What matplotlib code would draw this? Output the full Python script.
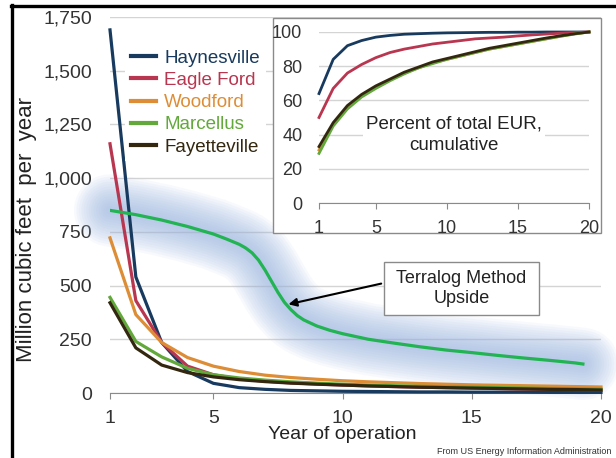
import numpy as np
import matplotlib
matplotlib.use("Agg")
import matplotlib.pyplot as plt
from matplotlib.lines import Line2D
from matplotlib.patches import Rectangle
from matplotlib.ticker import StrMethodFormatter

plt.rcParams['font.family'] = ['Liberation Sans', 'DejaVu Sans']

# 数据
years = list(range(1, 21))
names = ['Haynesville', 'Eagle Ford', 'Woodford', 'Marcellus', 'Fayetteville']
colors = ['#183a5e', '#b8364f', '#dd8d36', '#62a83a', '#33280f']

haynesville = [1690, 540, 235, 100, 45, 25, 17, 12, 10, 8, 7, 6, 5, 5, 4, 4, 4, 3, 3, 3]
eagle_ford = [1160, 430, 235, 125, 85, 65, 55, 47, 42, 37, 33, 30, 27, 25, 23, 21, 19, 17, 16, 14]
woodford = [722, 365, 235, 165, 125, 100, 83, 72, 64, 57, 52, 48, 44, 41, 38, 36, 34, 32, 30, 28]
marcellus = [445, 240, 168, 115, 85, 70, 60, 52, 46, 41, 37, 34, 31, 29, 27, 25, 23, 21, 20, 18]
fayetteville = [420, 210, 130, 95, 75, 62, 53, 46, 41, 37, 33, 30, 27, 25, 23, 21, 19, 17, 16, 14]

# Terralog 曲线
terra_x = [1, 2, 3, 4, 5, 5.5, 6, 6.25, 6.5, 6.75, 7, 7.25, 7.5, 7.75, 8, 8.25, 8.5, 9, 9.5, 10,
           11, 12, 13, 14, 15, 16, 17, 18, 19, 19.3]
terra_y = [850, 830, 805, 775, 740, 717, 692, 675, 652, 618, 572, 520, 468, 422, 388, 360, 340, 312, 292, 276,
           250, 232, 215, 200, 188, 175, 163, 152, 140, 135]

# 累计百分比（小图）
pct_haynesville = [64, 84, 92, 95, 97, 98, 98.7, 99, 99.3, 99.5, 99.6, 99.7, 99.8, 99.8, 99.9, 99.9, 100, 100, 100, 100]
pct_eagle_ford = [50, 67, 76, 81, 85, 88, 90, 91.5, 93, 94, 95, 96, 96.5, 97, 97.7, 98.3, 98.8, 99.3, 99.7, 100]
pct_woodford = [31, 46, 56, 63, 68, 72, 76, 79, 82, 84, 86, 88, 90, 91.5, 93, 94.5, 96, 97.5, 99, 100]
pct_marcellus = [29, 45, 55, 62, 67, 71.5, 75.5, 79, 81.5, 84, 86, 88, 90, 91.5, 93, 94.5, 96, 97.5, 98.8, 100]
pct_fayetteville = [33, 47, 57, 63.5, 68.5, 72.5, 76.5, 79.5, 82.5, 84.5, 86.5, 88.5, 90.5, 92, 93.5, 95, 96.5, 97.8, 99, 100]

W, H = 616, 458
fig = plt.figure(figsize=(W / 100, H / 100), dpi=100)

# 主图
ax = fig.add_axes([110 / W, 1 - 393 / H, 491 / W, 376 / H])
ax.set_xlim(1, 20)
ax.set_ylim(0, 1750)
ax.set_yticks(range(0, 1751, 250))
ax.set_xticks([1, 5, 10, 15, 20])
ax.yaxis.set_major_formatter(StrMethodFormatter('{x:,.0f}'))
ax.yaxis.grid(True, color='#d4d4d4', lw=1)
ax.set_axisbelow(True)
for s in ['left', 'right', 'top']:
    ax.spines[s].set_visible(False)
ax.spines['bottom'].set_color('#8a8a8a')
ax.tick_params(axis='y', length=0, pad=13, labelsize=14, labelcolor='#333333')
ax.tick_params(axis='x', length=4, color='#8a8a8a', pad=8, labelsize=14, labelcolor='#333333')

# 蓝色光晕
for lw in np.linspace(52, 6, 14):
    ax.plot(terra_x, terra_y, color='#9db6e2', lw=lw, alpha=0.075, solid_capstyle='round',
            solid_joinstyle='round', clip_on=False, zorder=1)

series = [haynesville, eagle_ford, woodford, marcellus, fayetteville]
for name, vals, c in zip(names, series, colors):
    ax.plot(years, vals, color=c, lw=2.3, label=name, zorder=3, clip_on=False)
ax.plot(terra_x, terra_y, color='#22b352', lw=2.3, zorder=4)

ax.set_xlabel('Year of operation', fontsize=14, color='#222222')
ax.xaxis.set_label_coords((342 - 110) / 491, -(426 - 393) / 376)
ax.set_ylabel('Million cubic feet  per  year', fontsize=16, color='#222222')
ax.yaxis.set_label_coords(-(110 - 37) / 491, (393 - 230) / 376)

leg = ax.legend(loc='upper left', bbox_to_anchor=(125 / W, 1 - 44 / H), bbox_transform=fig.transFigure,
                fontsize=13.5, labelcolor='linecolor', handlelength=1.35, handletextpad=0.45,
                labelspacing=0.27, borderpad=0.3, borderaxespad=0, frameon=True, fancybox=False)
leg.get_frame().set_edgecolor('none')
leg.get_frame().set_facecolor('white')
leg.get_frame().set_alpha(1)
for h in leg.get_lines():
    h.set_linewidth(3)
leg.set_zorder(5)

# Terralog 标注框
ax.annotate('', xy=(7.8, 410), xytext=(11.6, 512),
            arrowprops=dict(arrowstyle='-|>', color='black', lw=1.5, mutation_scale=12), zorder=6)
ax.add_patch(Rectangle((11.6, 363), 6.0, 247, facecolor='white', edgecolor='#8a8a8a', lw=1, zorder=6))
ax.text(14.6, 486, 'Terralog Method\nUpside', ha='center', va='center', fontsize=13,
        color='#222222', linespacing=1.2, zorder=7)

# 小图外框
fig.add_artist(Rectangle((273 / W, 1 - 233 / H), (601 - 273) / W, (233 - 18) / H,
                         transform=fig.transFigure, facecolor='white', edgecolor='#8a8a8a', lw=1, zorder=1))

ins = fig.add_axes([319 / W, 1 - 203 / H, 270 / W, 171 / H], zorder=2)
ins.patch.set_alpha(0)
ins.set_xlim(1, 20)
ins.set_ylim(0, 100)
ins.set_yticks(range(0, 101, 20))
ins.set_xticks([1, 5, 10, 15, 20])
ins.yaxis.grid(True, color='#d4d4d4', lw=1)
ins.set_axisbelow(True)
for s in ['left', 'right', 'top']:
    ins.spines[s].set_visible(False)
ins.spines['bottom'].set_color('#8a8a8a')
ins.tick_params(axis='y', length=0, pad=12, labelsize=13, labelcolor='#333333')
ins.tick_params(axis='x', length=4, color='#8a8a8a', pad=8, labelsize=13, labelcolor='#333333')

pct = [pct_haynesville, pct_eagle_ford, pct_woodford, pct_marcellus, pct_fayetteville]
for vals, c in zip(pct, colors):
    ins.plot(years, vals, color=c, lw=2, clip_on=False, zorder=3)

ins.text(10.5, 40, 'Percent of total EUR,\ncumulative', ha='center', va='center', fontsize=13.5,
         color='#222222', linespacing=1.3, zorder=4,
         bbox=dict(facecolor='white', edgecolor='none', pad=2))

# 来源
fig.text(611 / W, 1 - 452 / H, 'From US Energy Information Administration', ha='right', va='center',
         fontsize=6.5, color='#333333')

# 黑色边框
fig.add_artist(Line2D([11 / W, 1], [1 - 6 / H, 1 - 6 / H], color='black', lw=2.4))
fig.add_artist(Line2D([12 / W, 12 / W], [0, 1 - 5 / H], color='black', lw=2.4))

plt.savefig('out.png', dpi=100)
